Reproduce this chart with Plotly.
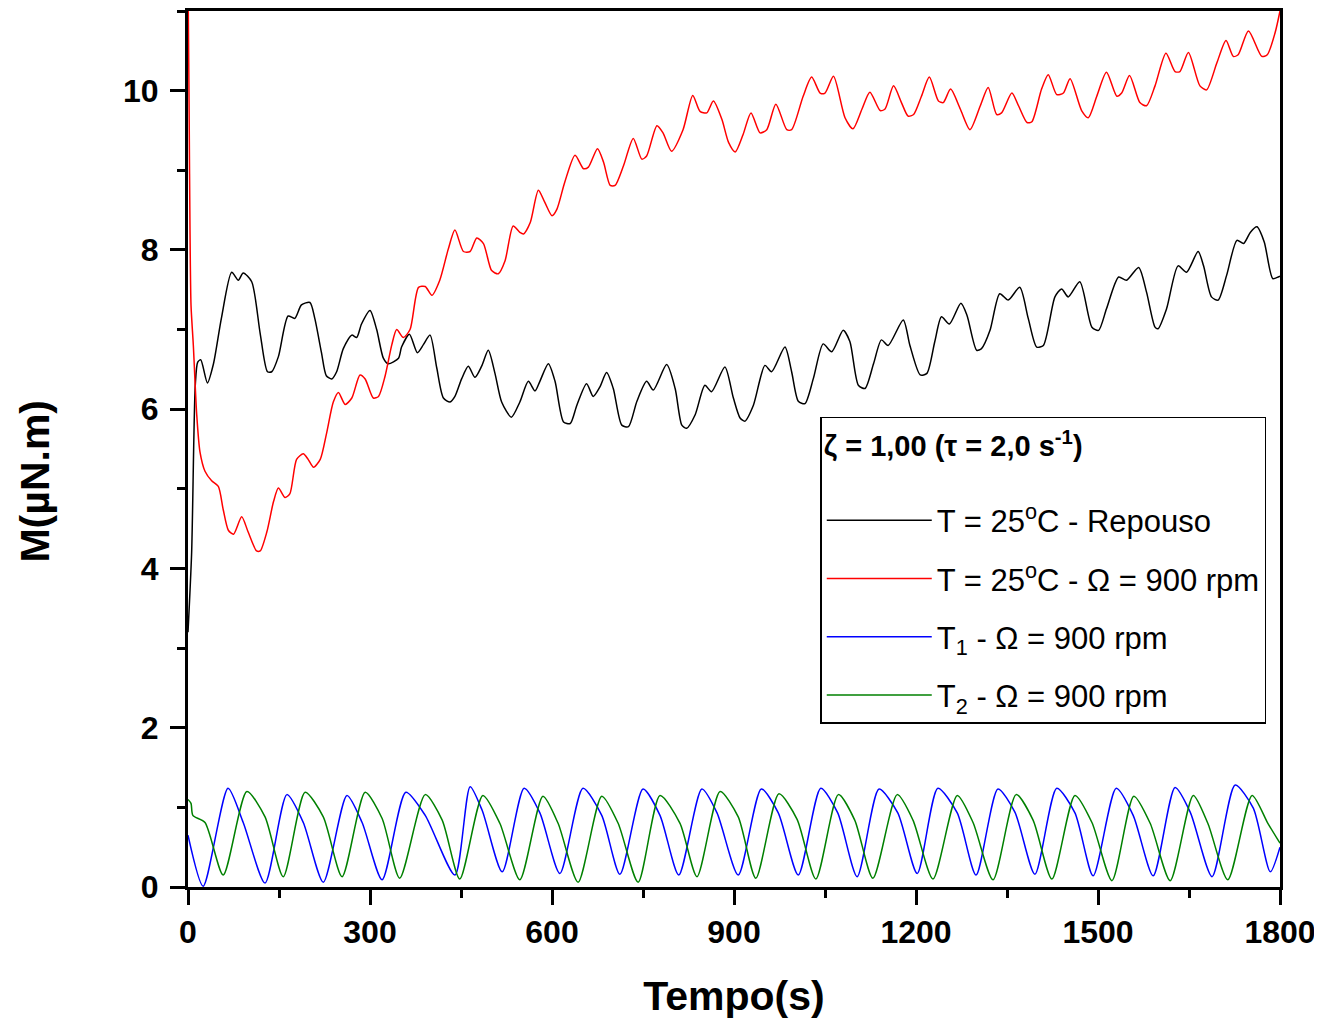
import plotly.graph_objects as go

# ---------------- data ----------------
x_ticks = [0, 300, 600, 900, 1200, 1500, 1800]
y_ticks = [0, 2, 4, 6, 8, 10]

series_names = [
    "T = 25<sup>o</sup>C - Repouso",
    "T = 25<sup>o</sup>C - \u03a9 = 900 rpm",
    "T<sub>1</sub> - \u03a9 = 900 rpm",
    "T<sub>2</sub> - \u03a9 = 900 rpm",
]
series_colors = ["#000000", "#ff0000", "#0000ff", "#008000"]

t_black = [0, 6, 12, 16, 21, 32, 42, 55, 72, 83, 91, 105, 119, 131, 138, 149, 165, 176, 187, 201,
           209, 220, 228, 237, 245, 256, 270, 278, 286, 300, 311, 322, 330, 347, 352, 365, 378, 388,
           399, 410, 421, 432, 440, 451, 462, 473, 484, 495, 506, 517, 533, 547, 561, 572, 580, 594,
           605, 619, 630, 641, 657, 668, 679, 690, 701, 715, 726, 740, 756, 767, 789, 803, 814, 822,
           836, 852, 863, 885, 899, 910, 918, 932, 951, 962, 984, 995, 1006, 1017, 1031, 1047, 1061,
           1080, 1091, 1105, 1116, 1130, 1143, 1154, 1179, 1190, 1207, 1218, 1231, 1242, 1255, 1274,
           1284, 1300, 1308, 1322, 1338, 1352, 1371, 1385, 1399, 1410, 1429, 1440, 1451, 1470, 1490,
           1501, 1514, 1534, 1547, 1567, 1580, 1594, 1599, 1613, 1632, 1646, 1665, 1674, 1687, 1698,
           1712, 1729, 1740, 1751, 1762, 1774, 1788, 1797, 1800]
m_black = [3.2, 4.2, 6.3, 6.59, 6.62, 6.33, 6.57, 7.14, 7.72, 7.62, 7.71, 7.6, 6.95, 6.47, 6.47, 6.66,
           7.17, 7.14, 7.31, 7.34, 7.14, 6.71, 6.42, 6.38, 6.47, 6.76, 6.93, 6.9, 7.07, 7.24, 7.0, 6.64,
           6.57, 6.64, 6.78, 6.94, 6.71, 6.81, 6.93, 6.52, 6.14, 6.09, 6.16, 6.38, 6.54, 6.4, 6.54, 6.74,
           6.45, 6.09, 5.9, 6.09, 6.35, 6.23, 6.35, 6.57, 6.35, 5.84, 5.82, 6.05, 6.32, 6.16, 6.28, 6.46,
           6.26, 5.8, 5.78, 6.1, 6.35, 6.24, 6.56, 6.26, 5.8, 5.76, 5.93, 6.3, 6.22, 6.53, 6.14, 5.89,
           5.85, 6.05, 6.55, 6.47, 6.78, 6.47, 6.1, 6.07, 6.39, 6.82, 6.72, 6.99, 6.85, 6.3, 6.26, 6.57,
           6.87, 6.8, 7.12, 6.8, 6.43, 6.45, 6.85, 7.16, 7.07, 7.33, 7.18, 6.74, 6.76, 6.99, 7.45, 7.37,
           7.53, 7.14, 6.78, 6.8, 7.41, 7.51, 7.41, 7.6, 7.03, 6.99, 7.26, 7.66, 7.62, 7.78, 7.47, 7.03,
           7.01, 7.26, 7.8, 7.72, 7.98, 7.8, 7.41, 7.37, 7.68, 8.12, 8.08, 8.22, 8.29, 8.1, 7.64, 7.66,
           7.67]

t_red = [0, 2, 3.3, 5, 8.8, 14.3, 19.8, 28, 39, 50, 58, 66.5, 75, 88.5, 99, 113, 119, 130, 141, 149,
         160, 168, 179, 190, 198, 207, 218, 228.5, 239.5, 248, 259, 270, 283.5, 292, 305.5, 314, 325,
         336, 344, 355, 366, 380, 391, 402, 415, 429, 440, 454, 465, 476, 487, 500.5, 511.5, 522.5,
         536, 547, 553, 564, 577.5, 588, 600, 608, 621, 638, 652, 660, 675, 685, 696, 704, 718, 734,
         748, 756, 773, 783, 797, 816, 832, 844, 855, 866, 880, 891, 902, 915, 928, 943, 954, 969, 987,
         995, 1014, 1028, 1042, 1050, 1064, 1083, 1096, 1111, 1124, 1141, 1149, 1163, 1176, 1187,
         1196, 1209, 1222, 1237, 1245, 1257, 1273, 1289, 1306, 1319, 1333, 1341, 1358, 1369, 1383,
         1391, 1407, 1418, 1432, 1443, 1454, 1473, 1484, 1498, 1514, 1531, 1539, 1552, 1569, 1580,
         1594, 1612, 1627, 1635, 1649, 1668, 1679, 1696, 1711, 1723, 1731, 1748, 1770, 1779, 1792,
         1800]
m_red = [11.5, 9.6, 8.25, 7.3, 6.8, 5.94, 5.46, 5.22, 5.1, 5.03, 4.74, 4.48, 4.43, 4.65, 4.46, 4.22,
         4.22, 4.46, 4.84, 5.01, 4.89, 4.94, 5.37, 5.44, 5.37, 5.27, 5.37, 5.7, 6.09, 6.21, 6.06, 6.14,
         6.43, 6.38, 6.14, 6.16, 6.42, 6.81, 7.0, 6.9, 7.0, 7.53, 7.54, 7.43, 7.62, 8.01, 8.25, 7.98,
         7.98, 8.15, 8.08, 7.74, 7.7, 7.86, 8.3, 8.22, 8.2, 8.34, 8.75, 8.6, 8.43, 8.51, 8.85, 9.19,
         9.02, 9.04, 9.27, 9.1, 8.81, 8.81, 9.06, 9.4, 9.14, 9.18, 9.56, 9.47, 9.24, 9.51, 9.94, 9.74,
         9.72, 9.87, 9.64, 9.35, 9.23, 9.45, 9.72, 9.47, 9.51, 9.83, 9.51, 9.51, 9.93, 10.17, 9.97,
         9.97, 10.18, 9.66, 9.52, 9.77, 9.98, 9.75, 9.77, 10.06, 9.85, 9.68, 9.7, 9.93, 10.17, 9.87,
         9.85, 10.02, 9.77, 9.51, 9.81, 10.04, 9.7, 9.72, 9.97, 9.81, 9.6, 9.61, 10.02, 10.2, 9.95,
         9.97, 10.15, 9.75, 9.66, 9.93, 10.23, 9.93, 9.97, 10.19, 9.85, 9.81, 10.06, 10.47, 10.24,
         10.24, 10.48, 10.06, 10.01, 10.35, 10.63, 10.43, 10.45, 10.75, 10.43, 10.45, 10.73, 11.0]

t_blue = [0, 25, 66, 91, 127, 163, 190, 223, 262, 287, 320, 359, 391, 440, 465, 485, 518, 554, 580,
          613, 651, 682, 712, 750, 778, 809, 847, 872, 907, 945, 973, 1006, 1043, 1071, 1103, 1139,
          1170, 1202, 1236, 1268, 1299, 1335, 1363, 1396, 1432, 1462, 1492, 1530, 1558, 1591, 1627,
          1652, 1688, 1726, 1756, 1784, 1800]
m_blue = [0.65, 0.01, 1.24, 0.81, 0.05, 1.16, 0.81, 0.06, 1.15, 0.81, 0.09, 1.19, 0.90, 0.15, 1.26,
          0.96, 0.19, 1.24, 0.93, 0.17, 1.24, 0.90, 0.16, 1.23, 0.90, 0.15, 1.23, 0.93, 0.15, 1.23,
          0.93, 0.15, 1.24, 0.93, 0.13, 1.23, 0.93, 0.17, 1.24, 0.93, 0.15, 1.23, 0.94, 0.16, 1.24,
          0.93, 0.14, 1.24, 0.90, 0.14, 1.25, 0.94, 0.13, 1.28, 0.99, 0.19, 0.50]

t_green = [0, 5, 8, 28, 58, 97, 127, 157, 193, 223, 254, 292, 320, 349, 391, 419, 448, 486, 514, 547,
           585, 610, 643, 682, 709, 742, 778, 811, 839, 877, 907, 936, 974, 1004, 1035, 1072, 1099,
           1129, 1169, 1195, 1228, 1268, 1294, 1327, 1365, 1393, 1424, 1462, 1490, 1523, 1559, 1586,
           1619, 1657, 1681, 1714, 1754, 1780, 1800]
m_green = [1.10, 1.05, 0.90, 0.81, 0.15, 1.20, 0.88, 0.13, 1.19, 0.88, 0.13, 1.19, 0.86, 0.11, 1.16,
           0.84, 0.10, 1.15, 0.80, 0.09, 1.14, 0.80, 0.06, 1.14, 0.80, 0.06, 1.15, 0.80, 0.13, 1.20,
           0.88, 0.11, 1.17, 0.85, 0.10, 1.16, 0.84, 0.11, 1.16, 0.84, 0.10, 1.15, 0.81, 0.09, 1.16,
           0.84, 0.10, 1.15, 0.81, 0.08, 1.14, 0.80, 0.08, 1.15, 0.80, 0.09, 1.15, 0.80, 0.55]

series_t = [t_black, t_red, t_blue, t_green]
series_m = [m_black, m_red, m_blue, m_green]

# ---------------- figure ----------------
FONT = "Liberation Sans, Arial, Helvetica, sans-serif"
fig = go.Figure()
for name, t, m, c in zip(series_names, series_t, series_m, series_colors):
    fig.add_trace(go.Scatter(x=t, y=m, mode="lines", name=name, legendgroup=name,
                             line=dict(color=c, width=1.5, shape="spline", smoothing=0.7)))

axis_common = dict(showgrid=False, zeroline=False, showline=True, linewidth=3,
                   linecolor="black", mirror=True, ticks="outside", tickwidth=2.5,
                   tickcolor="black", ticklen=15,
                   tickfont=dict(family=FONT, size=32, color="black", weight="bold"))

fig.update_layout(
    width=1314, height=1016,
    margin=dict(l=180, r=42, t=0, b=137),
    paper_bgcolor="white", plot_bgcolor="white",
    font=dict(family=FONT, color="black"),
    xaxis=dict(range=[0, 1800], tickvals=x_ticks,
               minor=dict(tick0=0, dtick=150, ticks="outside", ticklen=8, tickwidth=2.5,
                          tickcolor="black"),
               title=dict(text="Tempo(s)", standoff=32,
                          font=dict(family=FONT, size=41, color="black", weight="bold")),
               **axis_common),
    yaxis=dict(range=[0, 11], tickvals=y_ticks, ticklabelstandoff=5,
               minor=dict(tick0=0, dtick=1, ticks="outside", ticklen=8, tickwidth=2.5,
                          tickcolor="black"),
               **axis_common),
    xaxis2=dict(overlaying="x", side="top", range=[0, 1800], tick0=0, dtick=150,
                ticks="inside", ticklen=5, tickwidth=2, tickcolor="black",
                showticklabels=False, showgrid=False, zeroline=False, showline=False),
    yaxis2=dict(overlaying="y", side="right", range=[0, 11], tick0=0, dtick=1,
                ticks="inside", ticklen=5, tickwidth=2, tickcolor="black",
                showticklabels=False, showgrid=False, zeroline=False, showline=False),
    legend=dict(x=0.579, y=0.537, xanchor="left", yanchor="top",
                bgcolor="white", bordercolor="black", borderwidth=1.5,
                font=dict(family=FONT, size=31, color="black"),
                title=dict(text="\u03b6 = 1,00 (\u03c4 = 2,0 s<sup>-1</sup>)<br>",
                           font=dict(family=FONT, size=29, color="black", weight="bold")),
                tracegroupgap=15, itemwidth=105),
    annotations=[dict(text="M(\u00b5N.m)", textangle=-90, xref="paper", yref="paper",
                      x=-0.14, y=0.463, xanchor="center", yanchor="middle", showarrow=False,
                      font=dict(family=FONT, size=41, color="black", weight="bold"))],
    showlegend=True,
)

fig.write_html("out.html")
